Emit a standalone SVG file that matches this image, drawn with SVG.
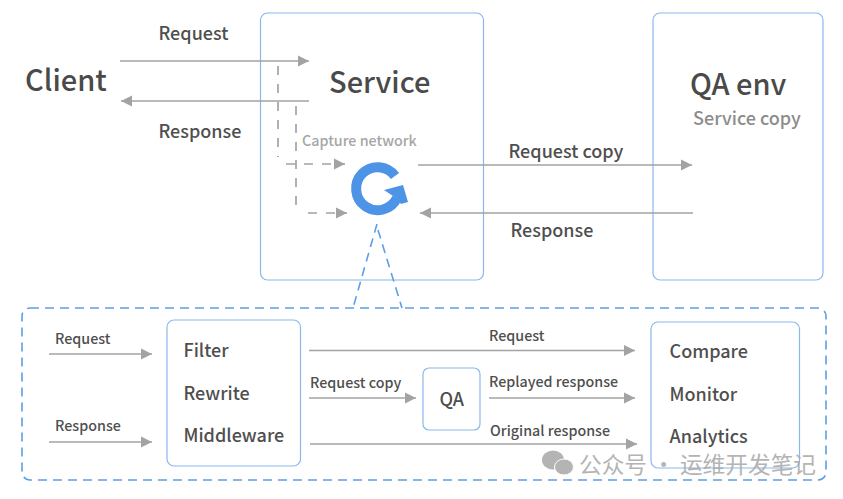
<svg xmlns="http://www.w3.org/2000/svg" width="843" height="499" viewBox="0 0 843 499">
<style>
text{font-family:"Noto Sans CJK SC","Noto Sans",sans-serif;fill:#4f4f4f;font-weight:500}
.box{fill:#fff;stroke:#8ab8ee;stroke-width:1.2}
.l{font-size:18px}.m{font-size:14.300px}.s{font-size:18px}
.c{fill:none;stroke:#a3a3a3;stroke-width:1.7}
.d{stroke-dasharray:9 9}
.b{fill:none;stroke:#5b9fe8;stroke-width:1.6;stroke-dasharray:9 6}
</style>
<defs><marker id="a" markerUnits="userSpaceOnUse" markerWidth="12" markerHeight="12" refX="11" refY="6" orient="auto"><path d="M0 0.500L11 6L0 11.500z" fill="#a3a3a3"/></marker></defs>
<rect width="843" height="499" fill="#fff"/>
<g id="service"><rect class="box" x="260.500" y="13" width="223" height="267" rx="7"/><text x="329" y="93" style="font-size:29px;font-weight:500;fill:#4a4a4a">Service</text><text x="302" y="146" style="font-size:14.300px;fill:#a6a6a6">Capture network</text></g>
<g id="qa-env"><rect class="box" x="653" y="13" width="170" height="267" rx="7"/><text x="690" y="95" style="font-size:29px;font-weight:500;fill:#4a4a4a">QA env</text><text x="693" y="124.500" style="font-size:18px;fill:#8c8c8c">Service copy</text></g>
<g id="client"><text x="25" y="91" style="font-size:29px;font-weight:500;fill:#4a4a4a">Client</text></g>
<g id="capture-icon"><path d="M395 176A21.500 21.500 0 1 0 397 198" fill="none" stroke="#4d94e6" stroke-width="10"/><path d="M384 190L403 185L408 202L401 204L396 198z" fill="#4d94e6"/></g>
<g id="panel"><rect x="22" y="308" width="804" height="172" rx="8" class="b"/><path class="b" d="M377 224L353 308M378 230L402 308"/></g>
<g id="filter"><rect class="box" x="167" y="320" width="133.500" height="146" rx="7"/><text class="s" x="183.500" y="356.500">Filter</text><text class="s" x="183.500" y="399.500">Rewrite</text><text class="s" x="183.500" y="441.500">Middleware</text></g>
<g id="qa"><rect class="box" x="423" y="368" width="57" height="62" rx="6"/><text class="s" x="439.500" y="406">QA</text></g>
<g id="compare"><rect class="box" x="651" y="322" width="148.500" height="146" rx="7"/><text class="s" x="669.500" y="358">Compare</text><text class="s" x="669.500" y="400.500">Monitor</text><text class="s" x="669.500" y="443">Analytics</text></g>
<g id="connectors">
<path class="c" d="M120 61H309" marker-end="url(#a)"/><path class="c" d="M309 101H121" marker-end="url(#a)"/>
<path class="c d" d="M278 66V157"/><path class="c d" d="M296 106V213"/><path class="c d" d="M286 164H345" marker-end="url(#a)"/><path class="c d" d="M308 213H347" marker-end="url(#a)"/>
<path class="c" d="M418 165H692" marker-end="url(#a)"/><path class="c" d="M693 213H420" marker-end="url(#a)"/>
<path class="c" d="M49 354H152" marker-end="url(#a)"/><path class="c" d="M49 442H152" marker-end="url(#a)"/>
<path class="c" d="M309 350.500H635" marker-end="url(#a)"/><path class="c" d="M309 398H416" marker-end="url(#a)"/><path class="c" d="M489 398H635" marker-end="url(#a)"/><path class="c" d="M310 444H637" marker-end="url(#a)"/>
</g>
<g id="labels">
<text class="l" x="158.500" y="40">Request</text><text class="l" x="158.500" y="137.500">Response</text><text class="l" x="508.500" y="157.500">Request copy</text><text class="l" x="510.500" y="237">Response</text>
<text class="m" x="55" y="344">Request</text><text class="m" x="55" y="431">Response</text><text class="m" x="489" y="341">Request</text><text class="m" x="310" y="388">Request copy</text><text class="m" x="489" y="387">Replayed response</text><text class="m" x="490" y="436">Original response</text>
</g>
<g id="watermark" opacity="0.85"><ellipse cx="553" cy="460" rx="11" ry="9.500" fill="#a8a8a8"/><ellipse cx="564" cy="467" rx="9.500" ry="8" fill="#a8a8a8" stroke="#fff"/><text x="579" y="473" style="font-size:22.700px;fill:#a8a8a8;font-weight:400">公众号 · 运维开发笔记</text></g>
</svg>
